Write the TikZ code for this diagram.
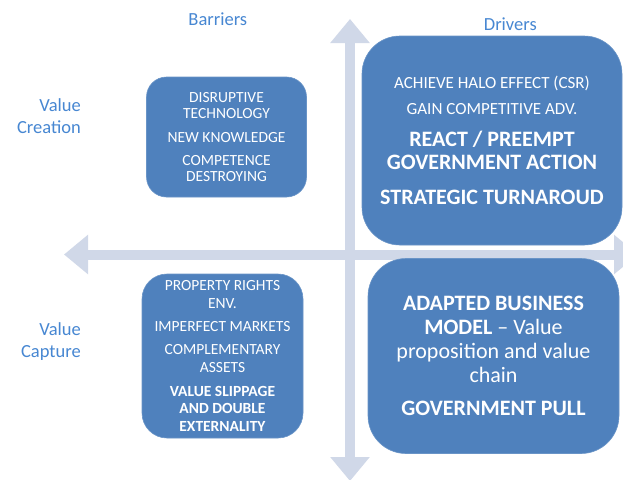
\documentclass[tikz,border=0pt]{standalone}
\usepackage{fontspec}
\setmainfont{Carlito}
\usetikzlibrary{arrows.meta}
\definecolor{boxblue}{HTML}{4F81BD}
\definecolor{axisgray}{HTML}{D0D8E8}
\definecolor{labelblue}{HTML}{4787D2}

\begin{document}
\begin{tikzpicture}[x=1pt, y=-1pt,
quad/.style={rectangle, draw=boxblue!85!white, line width=0.6pt, fill=boxblue,
text=white, align=center, inner sep=0pt},
axis/.style={draw=axisgray, line width=10pt,
{Triangle[width=38pt,length=24pt]}-{Triangle[width=38pt,length=24pt]}},
heading/.style={text=labelblue, font=\fontsize{18.5}{22}\selectfont, inner sep=0pt}
]
\fill[white] (0,0) rectangle (623,479);
\clip (0,0) rectangle (623,479);

\coordinate (vtop) at (350,19);
\coordinate (vbot) at (350,481);
\coordinate (hleft) at (64,254.5);
\coordinate (hright) at (638,254.5);
\draw[axis] (vtop) -- (vbot);
\draw[axis] (hleft) -- (hright);

\node[quad, rounded corners=20pt, minimum width=160pt, minimum height=120pt,
font=\fontsize{15.5}{16}\selectfont] (barcreate) at (226.5,137)
{DISRUPTIVE\\TECHNOLOGY\\[8pt]NEW KNOWLEDGE\\[7.5pt]COMPETENCE\\DESTROYING};
\node[quad, rounded corners=38pt, minimum width=260pt, minimum height=209pt,
font=\fontsize{22}{23.5}\selectfont] (drvcreate) at (492,140.5)
{{\fontsize{17}{20}\selectfont ACHIEVE HALO EFFECT (CSR)}\\[2.2pt]
{\fontsize{17}{20}\selectfont GAIN COMPETITIVE ADV.}\\[8.2pt]
\textbf{REACT / PREEMPT}\\\textbf{GOVERNMENT ACTION}\\[11.5pt]
\textbf{STRATEGIC TURNAROUD}};
\node[quad, rounded corners=25pt, minimum width=161pt, minimum height=164pt,
font=\fontsize{15.5}{17.5}\selectfont] (barcapture) at (222.5,356)
{PROPERTY RIGHTS\\ENV.\\[5.8pt]IMPERFECT MARKETS\\[5.5pt]COMPLEMENTARY\\ASSETS\\[6.7pt]
\textbf{VALUE SLIPPAGE}\\\textbf{AND DOUBLE}\\\textbf{EXTERNALITY}};
\node[quad, rounded corners=38pt, minimum width=251pt, minimum height=195pt,
font=\fontsize{22}{24}\selectfont] (drvcapture) at (493.5,356)
{\textbf{ADAPTED BUSINESS}\\\textbf{MODEL} \textendash{} Value\\proposition and value\\chain\\[9pt]
\textbf{GOVERNMENT PULL}};

\node[heading, anchor=base] (barriers) at (217.8,25.7) {Barriers};
\node[heading, anchor=base] (drivers) at (510.3,30) {Drivers};
\node[heading, align=right, anchor=east] (valcreate) at (81,116) {Value\\Creation};
\node[heading, align=right, anchor=east] (valcapture) at (81,342) {Value\\Capture};
\end{tikzpicture}
\end{document}
